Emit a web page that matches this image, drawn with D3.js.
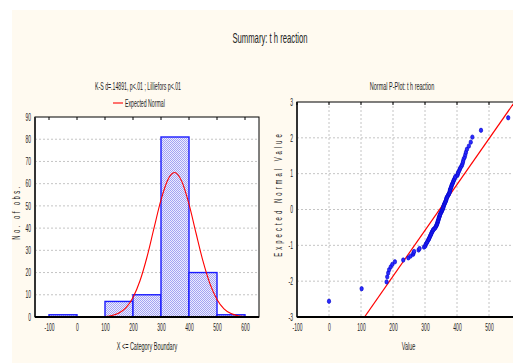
<!DOCTYPE html>
<html>
<head>
<meta charset="utf-8">
<script src="https://cdn.jsdelivr.net/npm/d3@7"></script>
<style>
  html, body { margin: 0; padding: 0; background: #ffffff; }
  svg { display: block; }
  text { font-family: "Liberation Sans", Arial, sans-serif; fill: #222; }
</style>
</head>
<body>
<svg id="chart" width="513" height="363"></svg>
<script>
// Histogram: category boundaries (bin start) and counts
const binStarts = [-100, 0, 100, 200, 300, 400, 500];
const binCounts = [1, 0, 7, 10, 81, 20, 1];
const binWidth = 100;

// Expected normal curve
const curveX = [-150, 0, 100, 125, 150, 175, 200, 225, 250, 275, 300, 325, 348, 375, 400, 425, 450, 475, 500, 525, 550, 575, 600, 650];
const curveY = [0, 0, 0.24, 0.69, 1.81, 4.2, 8.8, 16.3, 27.0, 40.0, 52.7, 61.9, 65, 60.8, 50.8, 37.8, 25.1, 14.9, 7.9, 3.7, 1.57, 0.59, 0.2, 0];

const histXTicks = [-100, 0, 100, 200, 300, 400, 500, 600];
const histYTicks = [0, 10, 20, 30, 40, 50, 60, 70, 80, 90];

// Normal probability plot: observed values and expected normal values
const obsValues = [
  0, 102, 180, 182, 185, 188, 193, 198, 206, 232,
  248, 255, 263, 264, 266, 280, 283, 297, 301, 302,
  304, 306, 308, 310, 312, 313, 315, 316, 318, 319,
  320, 322, 323, 325, 326, 329, 332, 333, 335, 336,
  337, 338, 339, 340, 340, 341, 342, 343, 343, 344,
  345, 346, 346, 347, 348, 350, 351, 352, 353, 354,
  355, 356, 357, 357, 358, 359, 360, 361, 362, 363,
  364, 365, 366, 367, 367, 368, 369, 371, 372, 374,
  375, 376, 377, 378, 378, 379, 380, 381, 382, 383,
  384, 385, 387, 388, 389, 391, 392, 394, 395, 401,
  402, 403, 405, 407, 409, 411, 414, 416, 418, 419,
  421, 424, 426, 428, 431, 437, 443, 448, 475, 560
];
const expValues = [
  -2.56, -2.21, -2.02, -1.88, -1.77, -1.68, -1.60, -1.53, -1.46, -1.41,
  -1.35, -1.30, -1.25, -1.21, -1.17, -1.13, -1.09, -1.05, -1.02, -0.98,
  -0.95, -0.92, -0.89, -0.85, -0.83, -0.80, -0.77, -0.74, -0.71, -0.69,
  -0.66, -0.63, -0.61, -0.58, -0.56, -0.54, -0.51, -0.49, -0.46, -0.44,
  -0.42, -0.40, -0.37, -0.35, -0.33, -0.31, -0.29, -0.26, -0.24, -0.22,
  -0.20, -0.18, -0.16, -0.14, -0.12, -0.09, -0.07, -0.05, -0.03, -0.01,
  0.01, 0.03, 0.05, 0.07, 0.09, 0.12, 0.14, 0.16, 0.18, 0.20,
  0.22, 0.24, 0.26, 0.29, 0.31, 0.33, 0.35, 0.37, 0.40, 0.42,
  0.44, 0.46, 0.49, 0.51, 0.54, 0.56, 0.58, 0.61, 0.63, 0.66,
  0.69, 0.71, 0.74, 0.77, 0.80, 0.83, 0.85, 0.89, 0.92, 0.95,
  0.98, 1.02, 1.05, 1.09, 1.13, 1.17, 1.21, 1.25, 1.30, 1.35,
  1.41, 1.46, 1.53, 1.60, 1.68, 1.77, 1.88, 2.02, 2.21, 2.56
];
// Fitted normal line (two end points)
const lineX = [111, 580];
const lineY = [-3, 3];

const pXTicks = [-100, 0, 100, 200, 300, 400, 500, 600];
const pYTicks = [-3, -2, -1, 0, 1, 2, 3];

const svg = d3.select("#chart");
const defs = svg.append("defs");

// the original is a squeezed bitmap, so every label is condensed horizontally
function label(x, y, str, size, sx, anchor = "middle", rotate = 0, spacing = 0) {
  const t = svg.append("text")
    .attr("transform", `translate(${x},${y}) rotate(${rotate}) scale(${sx},1)`)
    .attr("text-anchor", anchor)
    .style("font-size", size + "px")
    .text(str);
  if (spacing) t.style("letter-spacing", spacing + "px");
  return t;
}
const TICK_SX = 0.5;
function squeezeTicks(g) {
  g.select(".domain").remove();
  g.selectAll("text")
    .style("font-size", "10px").attr("fill", "#222")
    .attr("transform", `scale(${TICK_SX},1)`);
}

// fine blue checker texture for the bars
const pat = defs.append("pattern").attr("id", "hatch")
  .attr("width", 2).attr("height", 2).attr("patternUnits", "userSpaceOnUse");
pat.append("rect").attr("width", 2).attr("height", 2).attr("fill", "#ececff");
pat.append("rect").attr("width", 1).attr("height", 1).attr("fill", "#a4a4f2");
pat.append("rect").attr("x", 1).attr("y", 1).attr("width", 1).attr("height", 1).attr("fill", "#a4a4f2");

defs.append("clipPath").attr("id", "pclip")
  .append("rect").attr("x", 297).attr("y", 102).attr("width", 224).attr("height", 215);

// cream page
svg.append("rect").attr("x", 12).attr("y", 10).attr("width", 501).attr("height", 353).attr("fill", "#fffaf0");

label(270, 43, "Summary: t h reaction", 14, 0.55);

// ---------- histogram ----------
const hx = d3.scaleLinear().domain([-150, 650]).range([35, 259]);
const hy = d3.scaleLinear().domain([0, 90]).range([317, 117]);

svg.append("rect").attr("x", hx(-150)).attr("y", hy(90))
  .attr("width", hx(650) - hx(-150)).attr("height", hy(0) - hy(90)).attr("fill", "#ffffff");

svg.append("g").selectAll("line").data(histYTicks.slice(1, -1)).join("line")
  .attr("x1", hx(-150)).attr("x2", hx(650))
  .attr("y1", (d) => hy(d)).attr("y2", (d) => hy(d))
  .attr("stroke", "#c4c4c4").attr("stroke-width", 1).attr("stroke-dasharray", "2,2");

svg.append("g").selectAll("rect").data(binStarts.map((s, i) => ({ s, c: binCounts[i] })).filter((d) => d.c > 0)).join("rect")
  .attr("x", (d) => hx(d.s)).attr("y", (d) => hy(d.c))
  .attr("width", (d) => hx(d.s + binWidth) - hx(d.s)).attr("height", (d) => hy(0) - hy(d.c))
  .attr("fill", "url(#hatch)").attr("stroke", "#1a1aff").attr("stroke-width", 1.4);

svg.append("path")
  .datum(curveX.map((x, i) => [x, curveY[i]]))
  .attr("d", d3.line().x((d) => hx(d[0])).y((d) => hy(d[1])).curve(d3.curveMonotoneX))
  .attr("fill", "none").attr("stroke", "#ff0000").attr("stroke-width", 1.1);

// frame
svg.append("rect").attr("x", hx(-150)).attr("y", hy(90))
  .attr("width", hx(650) - hx(-150)).attr("height", hy(0) - hy(90))
  .attr("fill", "none").attr("stroke", "#000").attr("stroke-width", 1);
svg.append("line").attr("x1", hx(-150)).attr("x2", hx(-150)).attr("y1", hy(90)).attr("y2", hy(0))
  .attr("stroke", "#333").attr("stroke-width", 2);
svg.append("line").attr("x1", hx(-150)).attr("x2", hx(650)).attr("y1", hy(0)).attr("y2", hy(0))
  .attr("stroke", "#000").attr("stroke-width", 2);

svg.append("g").selectAll("line").data(histXTicks).join("line")
  .attr("x1", (d) => hx(d)).attr("x2", (d) => hx(d))
  .attr("y1", hy(90)).attr("y2", hy(90) + 3).attr("stroke", "#000");

svg.append("g").attr("transform", `translate(0,${hy(0)})`)
  .call(d3.axisBottom(hx).tickValues(histXTicks).tickFormat((d) => String(d)).tickSize(0).tickPadding(7))
  .call(squeezeTicks);
svg.append("g").attr("transform", `translate(${hx(-150)},0)`)
  .call(d3.axisLeft(hy).tickValues(histYTicks).tickFormat((d) => String(d)).tickSize(0).tickPadding(4 / TICK_SX))
  .call(squeezeTicks);

label(138, 90, "K-S d=.14891, p<.01 ; Lilliefors p<.01", 10, 0.52);
svg.append("line").attr("x1", 113).attr("x2", 123).attr("y1", 103).attr("y2", 103)
  .attr("stroke", "#ff0000").attr("stroke-width", 1.1);
label(125, 106.5, "Expected Normal", 10, 0.52, "start");

label(20, 212, "No. of obs.", 10, 0.6, "middle", -90, 4);
label(147, 350, "X <= Category Boundary", 10, 0.55);

// ---------- normal probability plot ----------
const px = d3.scaleLinear().domain([-100, 600]).range([297, 521]);
const py = d3.scaleLinear().domain([-3, 3]).range([317, 102]);

svg.append("rect").attr("x", px(-100)).attr("y", py(3))
  .attr("width", px(600) - px(-100)).attr("height", py(-3) - py(3)).attr("fill", "#ffffff");

svg.append("g").selectAll("line").data(pYTicks.slice(1, -1)).join("line")
  .attr("x1", px(-100)).attr("x2", px(600))
  .attr("y1", (d) => py(d)).attr("y2", (d) => py(d))
  .attr("stroke", "#c4c4c4").attr("stroke-dasharray", "2,2");
svg.append("g").selectAll("line").data(pXTicks.slice(1, -1)).join("line")
  .attr("x1", (d) => px(d)).attr("x2", (d) => px(d))
  .attr("y1", py(3)).attr("y2", py(-3))
  .attr("stroke", "#c4c4c4").attr("stroke-dasharray", "2,2");

svg.append("g").attr("clip-path", "url(#pclip)").append("path")
  .datum(lineX.map((x, i) => [x, lineY[i]]))
  .attr("d", d3.line().x((d) => px(d[0])).y((d) => py(d[1])))
  .attr("stroke", "#ff0000").attr("stroke-width", 1.2).attr("fill", "none");

svg.append("g").selectAll("ellipse").data(obsValues.map((v, i) => [v, expValues[i]])).join("ellipse")
  .attr("cx", (d) => px(d[0])).attr("cy", (d) => py(d[1]))
  .attr("rx", 1.7).attr("ry", 2.2)
  .attr("fill", "#2a2aff").attr("stroke", "#0000c8").attr("stroke-width", 0.6);

svg.append("rect").attr("x", px(-100)).attr("y", py(3))
  .attr("width", px(600) - px(-100)).attr("height", py(-3) - py(3))
  .attr("fill", "none").attr("stroke", "#000").attr("stroke-width", 1);
svg.append("line").attr("x1", px(-100)).attr("x2", px(-100)).attr("y1", py(3)).attr("y2", py(-3))
  .attr("stroke", "#333").attr("stroke-width", 2);
svg.append("line").attr("x1", px(-100)).attr("x2", px(600)).attr("y1", py(-3)).attr("y2", py(-3))
  .attr("stroke", "#000").attr("stroke-width", 2);

svg.append("g").selectAll("line").data(pXTicks).join("line")
  .attr("x1", (d) => px(d)).attr("x2", (d) => px(d))
  .attr("y1", py(3)).attr("y2", py(3) + 3).attr("stroke", "#000");

svg.append("g").attr("transform", `translate(0,${py(-3)})`)
  .call(d3.axisBottom(px).tickValues(pXTicks.slice(0, -1)).tickFormat((d) => String(d)).tickSize(0).tickPadding(7))
  .call(squeezeTicks);
svg.append("g").attr("transform", `translate(${px(-100)},0)`)
  .call(d3.axisLeft(py).tickValues(pYTicks).tickFormat((d) => String(d)).tickSize(0).tickPadding(4 / TICK_SX))
  .call(squeezeTicks);

label(402, 90, "Normal P-Plot: t h reaction", 10, 0.55);
label(282, 194, "Expected Normal Value", 10, 0.6, "middle", -90, 5);
label(408.5, 350, "Value", 10, 0.55);
</script>
</body>
</html>
